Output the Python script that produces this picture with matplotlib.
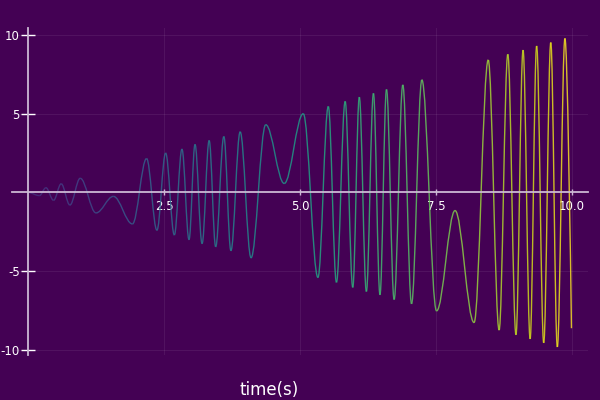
import matplotlib
matplotlib.use("Agg")
import matplotlib.pyplot as plt
from matplotlib.path import Path
from matplotlib.patches import PathPatch
from matplotlib import colors

# Extrema (peaks / troughs) of the signal, in order
ext_t = [0.00, 0.21, 0.33, 0.47, 0.61, 0.77, 0.96, 1.25, 1.57, 1.92,
         2.18, 2.37, 2.53, 2.69, 2.83, 2.96, 3.07, 3.20, 3.33, 3.45,
         3.60, 3.73, 3.90, 4.10, 4.37, 4.71, 5.06, 5.33, 5.52, 5.67,
         5.83, 5.97, 6.09, 6.22, 6.35, 6.47, 6.59, 6.73, 6.89, 7.05,
         7.24, 7.51, 7.85, 8.20, 8.46, 8.66, 8.82, 8.97, 9.10, 9.23,
         9.35, 9.48, 9.61, 9.73, 9.87, 9.99]
ext_y = [0.00, -0.20, 0.30, -0.50, 0.55, -0.80, 0.90, -1.30, -0.25, -2.00,
         2.15, -2.40, 2.50, -2.70, 2.75, -3.00, 3.05, -3.25, 3.30, -3.45,
         3.55, -3.70, 3.85, -4.15, 4.30, 0.57, 5.00, -5.40, 5.46, -5.71,
         5.78, -6.03, 6.05, -6.29, 6.29, -6.50, 6.54, -6.80, 6.83, -7.07,
         7.15, -7.52, -1.15, -8.26, 8.41, -8.74, 8.77, -9.04, 9.04, -9.30,
         9.30, -9.55, 9.52, -9.81, 9.78, -8.62]

xticks = [2.5, 5.0, 7.5, 10.0]
xtick_labels = ["2.5", "5.0", "7.5", "10.0"]
yticks = [-10, -5, 5, 10]
ytick_labels = ["-10", "-5", "5", "10"]
xlabel = "time(s)"

BG = "#440154"
AXC = (0.80, 0.72, 0.83)

fig = plt.figure(figsize=(6, 4), dpi=100, facecolor=BG)
ax = fig.add_axes([0.02, 0.1125, 0.96, 0.8175], facecolor=BG)

cmap = plt.get_cmap("viridis")
norm = colors.Normalize(vmin=-1.5, vmax=10.0)
a = 0.363
n = len(ext_t)
for i in range(n - 1):
    t0, y0, t1, y1 = ext_t[i], ext_y[i], ext_t[i + 1], ext_y[i + 1]
    dt = t1 - t0
    if i == n - 2:
        verts = [(t0, y0), (t0 + a * dt, y0), (t1 - 0.15 * dt, y1 + 0.25 * (y0 - y1)), (t1, y1)]
    else:
        verts = [(t0, y0), (t0 + a * dt, y0), (t1 - a * dt, y1), (t1, y1)]
    codes = [Path.MOVETO, Path.CURVE4, Path.CURVE4, Path.CURVE4]
    col = cmap(norm(0.5 * (t0 + t1)))
    ax.add_patch(PathPatch(Path(verts, codes), facecolor="none", edgecolor=col,
                           lw=1.0, alpha=0.82, zorder=2))

ax.set_xlim(-0.294, 10.294)
ax.set_ylim(-10.32, 10.44)

for s in ["top", "right"]:
    ax.spines[s].set_visible(False)
ax.spines["left"].set_position(("data", 0))
ax.spines["bottom"].set_position(("data", 0))
for s in ["left", "bottom"]:
    ax.spines[s].set_color(AXC)
    ax.spines[s].set_linewidth(1.3)
    ax.spines[s].set_zorder(3)

ax.set_xticks(xticks)
ax.set_xticklabels(xtick_labels)
ax.set_yticks(yticks)
ax.set_yticklabels(ytick_labels)
ax.tick_params(axis="x", direction="inout", length=5, width=1.0, color=AXC,
               labelcolor="white", labelsize=8.5, pad=3)
ax.tick_params(axis="y", direction="inout", length=10, width=1.0, color="white",
               labelcolor="white", labelsize=8.5, pad=1)
ax.grid(True, color="white", alpha=0.07, lw=0.8)
ax.set_axisbelow(True)

fig.text(269 / 600, 0.002, xlabel, color="white", fontsize=12,
         ha="center", va="bottom")

fig.savefig("out.png", dpi=100, facecolor=BG)
